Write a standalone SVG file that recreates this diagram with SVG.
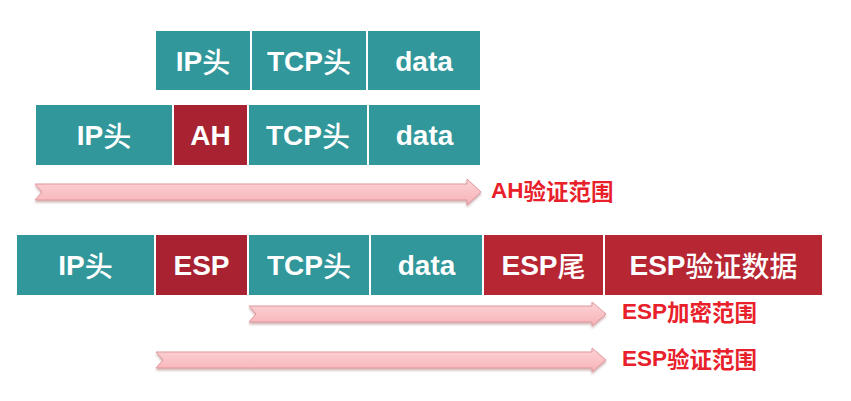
<svg xmlns="http://www.w3.org/2000/svg" width="851" height="401" viewBox="0 0 851 401">
<defs>
<linearGradient id="ag" x1="0" y1="0" x2="0" y2="1">
<stop offset="0" stop-color="#FCD3D5"/>
<stop offset="1" stop-color="#F7B3B8"/>
</linearGradient>
<filter id="sh" x="-5%" y="-50%" width="110%" height="200%">
<feDropShadow dx="0" dy="2" stdDeviation="1.2" flood-color="#9a5a5e" flood-opacity="0.45"/>
</filter>
</defs>
<style>
.t{fill:#31979A;stroke:#fff;stroke-width:2}
.r{fill:#A82231;stroke:#fff;stroke-width:2}
.r2{fill:#B72633;stroke:#fff;stroke-width:2}
.bl{font-family:"Liberation Sans","Noto Sans CJK SC",sans-serif;font-size:28px;font-weight:bold;fill:#fff;text-anchor:middle;dominant-baseline:central}
.cj{font-family:"Noto Sans CJK SC",sans-serif;font-weight:500}
.arr{fill:url(#ag);stroke:#E0979D;stroke-width:1;filter:url(#sh)}
.lb{font-family:"Liberation Sans","Noto Sans CJK SC",sans-serif;font-size:22.5px;font-weight:bold;fill:#E8202A;dominant-baseline:central}
.lc{font-family:"Noto Sans CJK SC",sans-serif;font-weight:bold}
</style>
<rect width="851" height="401" fill="#fff"/>

<g id="row1">
<g id="r1-ip"><rect class="t" x="155" y="30" width="96" height="61"/><text class="bl" x="203" y="61">IP<tspan class="cj">头</tspan></text></g>
<g id="r1-tcp"><rect class="t" x="251" y="30" width="116" height="61"/><text class="bl" x="309" y="61">TCP<tspan class="cj">头</tspan></text></g>
<g id="r1-data"><rect class="t" x="367" y="30" width="114" height="61"/><text class="bl" x="424" y="61">data</text></g>
</g>

<g id="row2">
<g id="r2-ip"><rect class="t" x="35" y="104" width="138" height="62"/><text class="bl" x="104" y="135">IP<tspan class="cj">头</tspan></text></g>
<g id="r2-ah"><rect class="r" x="173" y="104" width="75" height="62"/><text class="bl" x="210.5" y="135">AH</text></g>
<g id="r2-tcp"><rect class="t" x="248" y="104" width="120" height="62"/><text class="bl" x="308" y="135">TCP<tspan class="cj">头</tspan></text></g>
<g id="r2-data"><rect class="t" x="368" y="104" width="113" height="62"/><text class="bl" x="424.5" y="135">data</text></g>
</g>

<g id="row3">
<g id="r3-ip"><rect class="t" x="16" y="234" width="139" height="62"/><text class="bl" x="85.5" y="265">IP<tspan class="cj">头</tspan></text></g>
<g id="r3-esp"><rect class="r" x="155" y="234" width="93" height="62"/><text class="bl" x="201.5" y="265">ESP</text></g>
<g id="r3-tcp"><rect class="t" x="248" y="234" width="122" height="62"/><text class="bl" x="309" y="265">TCP<tspan class="cj">头</tspan></text></g>
<g id="r3-data"><rect class="t" x="370" y="234" width="113" height="62"/><text class="bl" x="426.5" y="265">data</text></g>
<g id="r3-esptail"><rect class="r2" x="483" y="234" width="121" height="62"/><text class="bl" x="543.5" y="265">ESP<tspan class="cj">尾</tspan></text></g>
<g id="r3-espauth"><rect class="r2" x="604" y="234" width="219" height="62"/><text class="bl" x="713.5" y="265">ESP<tspan class="cj">验证数据</tspan></text></g>
</g>

<g id="connectors">
<path class="arr" d="M35 184 L467 184 L467 179 L481 192 L467 205 L467 200 L35 200 L42 192 Z"/>
<path class="arr" d="M249 306 L592 306 L592 302 L606 314 L592 326 L592 322 L249 322 L256 314 Z"/>
<path class="arr" d="M156 352 L592 352 L592 348 L606 360 L592 372 L592 368 L156 368 L163 360 Z"/>
</g>

<g id="labels">
<text class="lb" x="491" y="190">AH<tspan class="lc">验证范围</tspan></text>
<text class="lb" x="622" y="311">ESP<tspan class="lc">加密范围</tspan></text>
<text class="lb" x="622" y="358">ESP<tspan class="lc">验证范围</tspan></text>
</g>
</svg>
